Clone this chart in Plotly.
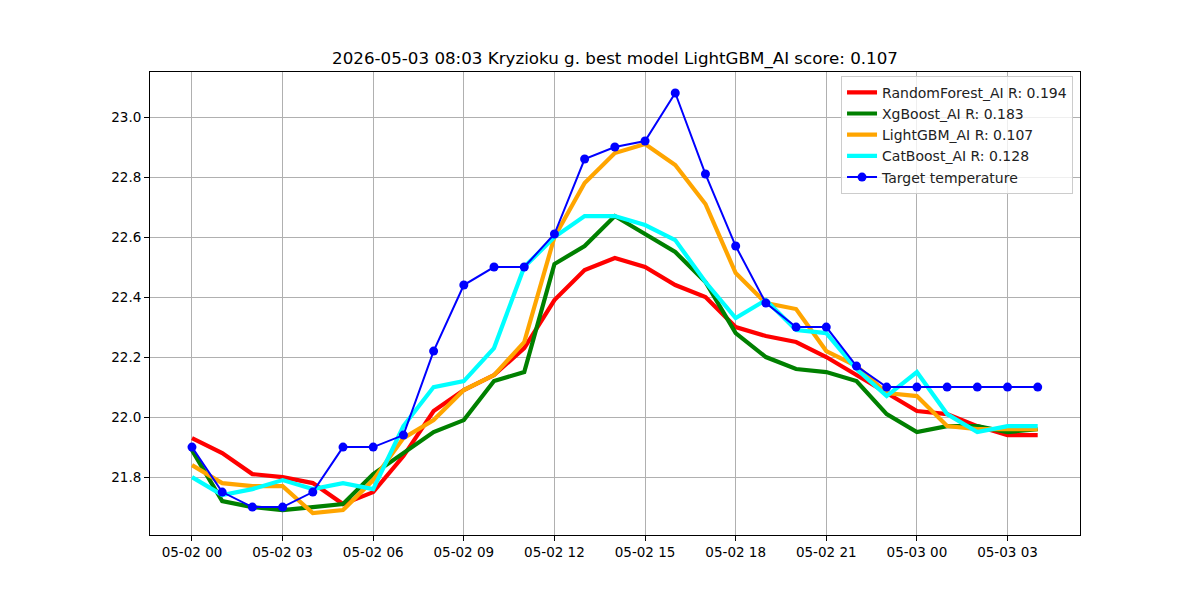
import plotly.graph_objects as go
import pandas as pd

times = pd.date_range("2026-05-02 00:00", periods=29, freq="h")

random_forest = [21.93, 21.88, 21.81, 21.80, 21.78, 21.71, 21.75, 21.87, 22.02, 22.09,
                 22.14, 22.23, 22.39, 22.49, 22.53, 22.50, 22.44, 22.40, 22.30, 22.27,
                 22.25, 22.20, 22.14, 22.08, 22.02, 22.01, 21.97, 21.94, 21.94]
xgboost = [21.89, 21.72, 21.70, 21.69, 21.70, 21.71, 21.81, 21.88, 21.95, 21.99,
           22.12, 22.15, 22.51, 22.57, 22.67, 22.61, 22.55, 22.45, 22.28, 22.20,
           22.16, 22.15, 22.12, 22.01, 21.95, 21.97, 21.97, 21.95, 21.96]
lightgbm = [21.84, 21.78, 21.77, 21.77, 21.68, 21.69, 21.79, 21.93, 21.99, 22.09,
            22.14, 22.25, 22.60, 22.78, 22.88, 22.91, 22.84, 22.71, 22.48, 22.38,
            22.36, 22.22, 22.17, 22.08, 22.07, 21.97, 21.96, 21.96, 21.96]
catboost = [21.80, 21.74, 21.76, 21.79, 21.76, 21.78, 21.76, 21.97, 22.10, 22.12,
            22.23, 22.50, 22.60, 22.67, 22.67, 22.64, 22.59, 22.45, 22.33, 22.39,
            22.29, 22.28, 22.16, 22.07, 22.15, 22.01, 21.95, 21.97, 21.97]
target = [21.90, 21.75, 21.70, 21.70, 21.75, 21.90, 21.90, 21.94, 22.22, 22.44,
          22.50, 22.50, 22.61, 22.86, 22.90, 22.92, 23.08, 22.81, 22.57, 22.38,
          22.30, 22.30, 22.17, 22.10, 22.10, 22.10, 22.10, 22.10, 22.10]

series = [
    ("RandomForest_AI R: 0.194", random_forest, "#ff0000"),
    ("XgBoost_AI R: 0.183", xgboost, "#008000"),
    ("LightGBM_AI R: 0.107", lightgbm, "#ffa500"),
    ("CatBoost_AI R: 0.128", catboost, "#00ffff"),
]

tick_times = pd.date_range("2026-05-02 00:00", "2026-05-03 03:00", freq="3h")
tick_text = [t.strftime("%m-%d %H") for t in tick_times]
y_ticks = [21.8, 22.0, 22.2, 22.4, 22.6, 22.8, 23.0]

fig = go.Figure()
for name, vals, color in series:
    fig.add_trace(go.Scatter(x=times, y=vals, mode="lines", name=name,
                             line=dict(color=color, width=4.2)))
fig.add_trace(go.Scatter(x=times, y=target, mode="lines+markers", name="Target temperature",
                         line=dict(color="#0000ff", width=2),
                         marker=dict(color="#0000ff", size=9)))

x0 = pd.Timestamp("2026-05-02 00:00") - pd.Timedelta(hours=1.39)
x1 = pd.Timestamp("2026-05-02 00:00") + pd.Timedelta(hours=29.4)

fig.update_layout(
    width=1200, height=600,
    margin=dict(l=150, r=120, t=72, b=65),
    paper_bgcolor="white", plot_bgcolor="white",
    font=dict(family="DejaVu Sans", size=14, color="black"),
    title=dict(text="2026-05-03 08:03 Kryzioku g. best model LightGBM_AI score: 0.107",
               x=0.5125, xanchor="center", y=0.903, yanchor="middle",
               font=dict(family="DejaVu Sans", size=16.7, color="black")),
    showlegend=True,
    legend=dict(x=0.9925, xanchor="right", y=0.992, yanchor="top",
                bgcolor="rgba(255,255,255,0.8)", bordercolor="#cccccc", borderwidth=1,
                font=dict(family="DejaVu Sans", size=14, color="#222222"),
                tracegroupgap=0, itemwidth=30),
    xaxis=dict(range=[x0, x1], tickvals=list(tick_times), ticktext=tick_text,
               tickfont=dict(family="DejaVu Sans", size=13.5),
               showgrid=True, gridcolor="#b0b0b0", gridwidth=1,
               showline=True, linecolor="black", linewidth=1, mirror=True,
               ticks="outside", ticklen=5, tickcolor="black", zeroline=False),
    yaxis=dict(range=[21.607, 23.15], tickvals=y_ticks,
               ticktext=[f"{v:.1f}" for v in y_ticks],
               tickfont=dict(family="DejaVu Sans", size=13.5),
               showgrid=True, gridcolor="#b0b0b0", gridwidth=1,
               showline=True, linecolor="black", linewidth=1, mirror=True,
               ticks="outside", ticklen=5, tickcolor="black", zeroline=False),
)

fig.write_html("out.html")
